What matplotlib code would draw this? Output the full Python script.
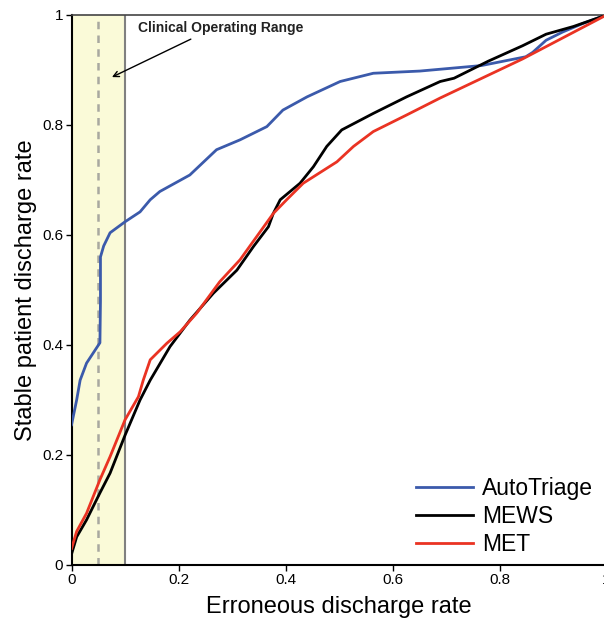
import matplotlib
matplotlib.use("Agg")
import matplotlib.pyplot as plt
from matplotlib.patches import Rectangle

plt.rcParams['font.family'] = ['Liberation Sans', 'DejaVu Sans']

auto_x = [0, 0.0095, 0.016, 0.028, 0.053, 0.054, 0.054, 0.06, 0.072, 0.1, 0.128, 0.147, 0.165,
          0.221, 0.271, 0.315, 0.365, 0.395, 0.44, 0.502, 0.564, 0.651, 0.766, 0.849, 0.862,
          0.887, 0.918, 0.957, 1.0]
auto_y = [0.255, 0.30, 0.336, 0.367, 0.404, 0.48, 0.56, 0.58, 0.604, 0.624, 0.642, 0.664, 0.679,
          0.709, 0.755, 0.773, 0.797, 0.827, 0.851, 0.879, 0.894, 0.898, 0.908, 0.924, 0.932,
          0.954, 0.969, 0.985, 1.0]

mews_x = [0, 0.0095, 0.028, 0.053, 0.072, 0.1, 0.128, 0.147, 0.184, 0.221, 0.265, 0.309, 0.34,
          0.368, 0.377, 0.39, 0.427, 0.452, 0.477, 0.505, 0.564, 0.626, 0.689, 0.715, 0.779,
          0.843, 0.887, 0.938, 1.0]
mews_y = [0.02, 0.051, 0.082, 0.131, 0.167, 0.236, 0.30, 0.336, 0.397, 0.445, 0.494, 0.536, 0.579,
          0.615, 0.639, 0.664, 0.694, 0.724, 0.761, 0.791, 0.821, 0.851, 0.879, 0.885, 0.916,
          0.944, 0.965, 0.979, 1.0]

met_x = [0, 0.0095, 0.028, 0.053, 0.072, 0.1, 0.125, 0.134, 0.147, 0.178, 0.203, 0.234, 0.277,
         0.315, 0.346, 0.377, 0.402, 0.433, 0.496, 0.527, 0.564, 0.626, 0.689, 0.843, 1.0]
met_y = [0.03, 0.061, 0.094, 0.155, 0.197, 0.264, 0.306, 0.336, 0.373, 0.403, 0.424, 0.458, 0.515,
         0.555, 0.597, 0.639, 0.664, 0.694, 0.733, 0.761, 0.788, 0.818, 0.849, 0.92, 1.0]

ticks = [0, 0.2, 0.4, 0.6, 0.8, 1.0]
tick_labels = ['0', '0.2', '0.4', '0.6', '0.8', '1']

fig = plt.figure(figsize=(6.04, 6.18), dpi=100)
ax = fig.add_axes([0.1185, 0.0858, 0.8857, 0.89])

ax.add_patch(Rectangle((0, 0), 0.1, 1, facecolor='#fafad8', edgecolor='none', zorder=0))
ax.axvline(0.1, color='#808080', lw=1.5, zorder=1)
ax.axvline(0.05, color='#a8a8a0', lw=1.8, ls=(0, (3, 2.5)), zorder=1)

ax.plot(auto_x, auto_y, color='#3b5aab', lw=2, label='AutoTriage', zorder=3,
        solid_joinstyle='round')
ax.plot(mews_x, mews_y, color='black', lw=2, label='MEWS', zorder=3,
        solid_joinstyle='round')
ax.plot(met_x, met_y, color='#ea3323', lw=2, label='MET', zorder=3,
        solid_joinstyle='round')

ax.annotate('Clinical Operating Range', xy=(0.0755, 0.887), xytext=(0.124, 0.976),
            fontsize=10, fontweight='bold', color='#222222', va='center', ha='left',
            arrowprops=dict(arrowstyle='->', color='black', lw=1,
                            relpos=(0.37, 0.0), shrinkA=2, shrinkB=0))

ax.set_xlim(0, 1)
ax.set_ylim(0, 1)
ax.set_xticks(ticks)
ax.set_xticklabels(tick_labels)
ax.set_yticks(ticks)
ax.set_yticklabels(tick_labels)
ax.tick_params(direction='out', length=4.5, width=1, labelsize=11, pad=1.5)

for s in ['left', 'bottom']:
    ax.spines[s].set_linewidth(1.5)
ax.spines['top'].set_color('#444444')
ax.spines['top'].set_linewidth(1.2)
ax.spines['right'].set_visible(False)

ax.set_xlabel('Erroneous discharge rate', fontsize=17, labelpad=6)
ax.set_ylabel('Stable patient discharge rate', fontsize=17, labelpad=4)

leg = ax.legend(loc='lower right', bbox_to_anchor=(1.0, -0.008), frameon=False,
                fontsize=16.5, handlelength=2.45, handletextpad=0.4, labelspacing=0.22,
                borderaxespad=0.2)

fig.savefig('out.png', dpi=100)
